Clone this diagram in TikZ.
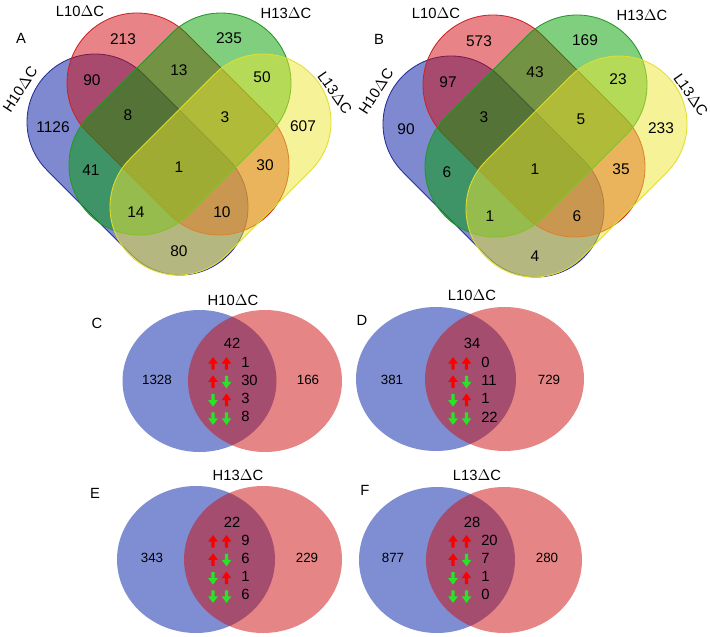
\documentclass[tikz,border=0pt]{standalone}
\usepackage{fontspec}
\setmainfont{Liberation Sans}
\usetikzlibrary{calc}
\usepackage{xcolor}

\definecolor{h10fill}{RGB}{0,20,160}
\definecolor{l10fill}{RGB}{210,10,15}
\definecolor{h13fill}{RGB}{0,160,0}
\definecolor{l13fill}{RGB}{235,230,50}
\definecolor{h10line}{RGB}{35,45,150}
\definecolor{l10line}{RGB}{200,35,35}
\definecolor{h13line}{RGB}{35,150,35}
\definecolor{l13line}{RGB}{225,222,45}
\definecolor{pairblue}{RGB}{0,30,165}
\definecolor{pairred}{RGB}{205,12,12}
\definecolor{arrup}{RGB}{250,0,0}
\definecolor{arrdown}{RGB}{40,228,40}

\tikzset{
  % capsule: first cap centre, second cap centre, radius, angle of first side
  lobe/.style n args={4}{insert path={($(#1)+(#4:#3)$) -- ($(#2)+(#4:#3)$)
    arc[start angle=#4, delta angle=180, radius=#3] -- ($(#1)+(#4+180:#3)$)
    arc[start angle=#4+180, delta angle=180, radius=#3] -- cycle}},
  arrowglyph/.style={insert path={(0,-6.5) -- (4.8,0) -- (1.7,0) -- (1.7,6)
    -- (-1.7,6) -- (-1.7,0) -- (-4.8,0) -- cycle}}
}

\begin{document}
\begin{tikzpicture}[x=0.025cm,y=-0.025cm,
  cnt/.style={font=\fontsize{11}{13}\selectfont,inner sep=0pt},
  setname/.style={font=\fontsize{10.5}{12}\selectfont,inner sep=0pt},
  panel/.style={font=\fontsize{10.5}{12}\selectfont,inner sep=0pt},
  side/.style={font=\fontsize{9.5}{11}\selectfont,inner sep=0pt},
  row/.style={font=\fontsize{10.5}{12}\selectfont,inner sep=0pt,anchor=west},
  h10/.style={fill=h10fill,draw=h10line,fill opacity=0.5,line width=0.6pt},
  l10/.style={fill=l10fill,draw=l10line,fill opacity=0.5,line width=0.6pt},
  h13/.style={fill=h13fill,draw=h13line,fill opacity=0.5,line width=0.6pt},
  l13/.style={fill=l13fill,draw=l13line,fill opacity=0.5,line width=0.6pt},
  pb/.style={fill=pairblue,fill opacity=0.5},
  pr/.style={fill=pairred,fill opacity=0.5}]
\useasboundingbox (0,0) rectangle (710,637);

% four-set diagrams A and B (same lobes, B shifted right)
\foreach \dx/\dy in {0/0,356/2}{
\begin{scope}[shift={(\dx,\dy)}]
\coordinate (h10a) at (95,122);  \coordinate (h10b) at (180,207);
\coordinate (l10a) at (137,83);  \coordinate (l10b) at (219,165);
\coordinate (h13a) at (221,83);  \coordinate (h13b) at (139,165);
\coordinate (l13a) at (263,122); \coordinate (l13b) at (178,207);
\draw[h10] [lobe={h10a}{h10b}{68}{-45}];
\draw[l10] [lobe={l10a}{l10b}{70}{-45}];
\draw[h13] [lobe={h13a}{h13b}{70}{45}];
\draw[l13] [lobe={l13a}{l13b}{68}{45}];
\node[setname] (nmL10\dx) at (80,11) {L10$\Delta$C};
\node[setname] (nmH13\dx) at (286,13) {H13$\Delta$C};
\node[setname,rotate=57] (nmH10\dx) at (20,89) {H10$\Delta$C};
\node[setname,rotate=-55] (nmL13\dx) at (335,93) {L13$\Delta$C};
\end{scope}}
\node[panel] (lblA) at (21,38) {A};
\node[panel] (lblB) at (379,39) {B};

% counts, panel A
\node[cnt] (a213) at (123,39) {213};
\node[cnt] (a235) at (229,38) {235};
\node[cnt] (a90) at (92,80) {90};
\node[cnt] (a13) at (179,70) {13};
\node[cnt] (a50) at (262,77) {50};
\node[cnt] (a1126) at (53,127) {1126};
\node[cnt] (a8) at (128,115) {8};
\node[cnt] (a3) at (225,117) {3};
\node[cnt] (a607) at (303,126) {607};
\node[cnt] (a41) at (91,170) {41};
\node[cnt] (a1) at (179,167) {1};
\node[cnt] (a30) at (265,165) {30};
\node[cnt] (a14) at (136,212) {14};
\node[cnt] (a10) at (222,212) {10};
\node[cnt] (a80) at (179,251) {80};

% counts, panel B
\begin{scope}[shift={(356,2)}]
\node[cnt] (b573) at (123,39) {573};
\node[cnt] (b169) at (229,38) {169};
\node[cnt] (b97) at (92,80) {97};
\node[cnt] (b43) at (179,70) {43};
\node[cnt] (b23) at (262,77) {23};
\node[cnt] (b90) at (50,127) {90};
\node[cnt] (b3) at (128,115) {3};
\node[cnt] (b5) at (225,117) {5};
\node[cnt] (b233) at (305,126) {233};
\node[cnt] (b6) at (91,170) {6};
\node[cnt] (b1) at (179,167) {1};
\node[cnt] (b35) at (265,167) {35};
\node[cnt] (b1x) at (134,214) {1};
\node[cnt] (b6x) at (221,214) {6};
\node[cnt] (b4) at (179,254) {4};
\end{scope}

% two-set diagrams C--F
\fill[pb] (199.5,381) ellipse [x radius=77,y radius=71];
\fill[pr] (265,381) ellipse [x radius=77,y radius=71];
\fill[pb] (436,379) ellipse [x radius=80,y radius=72];
\fill[pr] (504.5,379) ellipse [x radius=79.5,y radius=72];
\fill[pb] (196,559.5) ellipse [x radius=79,y radius=73.5];
\fill[pr] (263,559.5) ellipse [x radius=79,y radius=73.5];
\fill[pb] (437,560) ellipse [x radius=78,y radius=73];
\fill[pr] (504,560) ellipse [x radius=78,y radius=73];

\node[panel] (lblC) at (97,323) {C};
\node[panel] (lblD) at (362,320) {D};
\node[panel] (lblE) at (95,493) {E};
\node[panel] (lblF) at (365,490) {F};
\node[setname] (ttlC) at (233,300) {H10$\Delta$C};
\node[setname] (ttlD) at (472,295) {L10$\Delta$C};
\node[setname] (ttlE) at (238,475) {H13$\Delta$C};
\node[setname] (ttlF) at (477,475) {L13$\Delta$C};

\node[side] (c1328) at (157,380) {1328};
\node[side] (c166) at (308,380) {166};
\node[side] (d381) at (392,380) {381};
\node[side] (d729) at (549,380) {729};
\node[side] (e343) at (152,558) {343};
\node[side] (e229) at (307,558) {229};
\node[side] (f877) at (393,558) {877};
\node[side] (f280) at (547,558) {280};

\node[row,anchor=center] (c42) at (232,343) {42};
\node[row,anchor=center] (d34) at (472,343) {34};
\node[row,anchor=center] (e22) at (232,522) {22};
\node[row,anchor=center] (f28) at (472,522) {28};

% up/down rows inside each overlap
\foreach \px/\py/\va/\vb/\vc/\vd in {213/362/1/30/3/8, 453/362/0/11/1/22,
    213/540/9/6/1/6, 453/540/20/7/1/0}{
  \foreach \r/\sa/\sb/\ca/\cb/\v in {0/1/1/arrup/arrup/\va, 1/1/-1/arrup/arrdown/\vb,
      2/-1/1/arrdown/arrup/\vc, 3/-1/-1/arrdown/arrdown/\vd}{
    \fill[\ca,shift={(\px,\py+\r*18.3+1.5)},yscale=\sa] [arrowglyph];
    \fill[\cb,shift={(\px+13.5,\py+\r*18.3+1.5)},yscale=\sb] [arrowglyph];
    \node[row] (n\px\py\r) at (\px+28,\py+\r*18.3) {\v};
  }
}
\end{tikzpicture}
\end{document}
